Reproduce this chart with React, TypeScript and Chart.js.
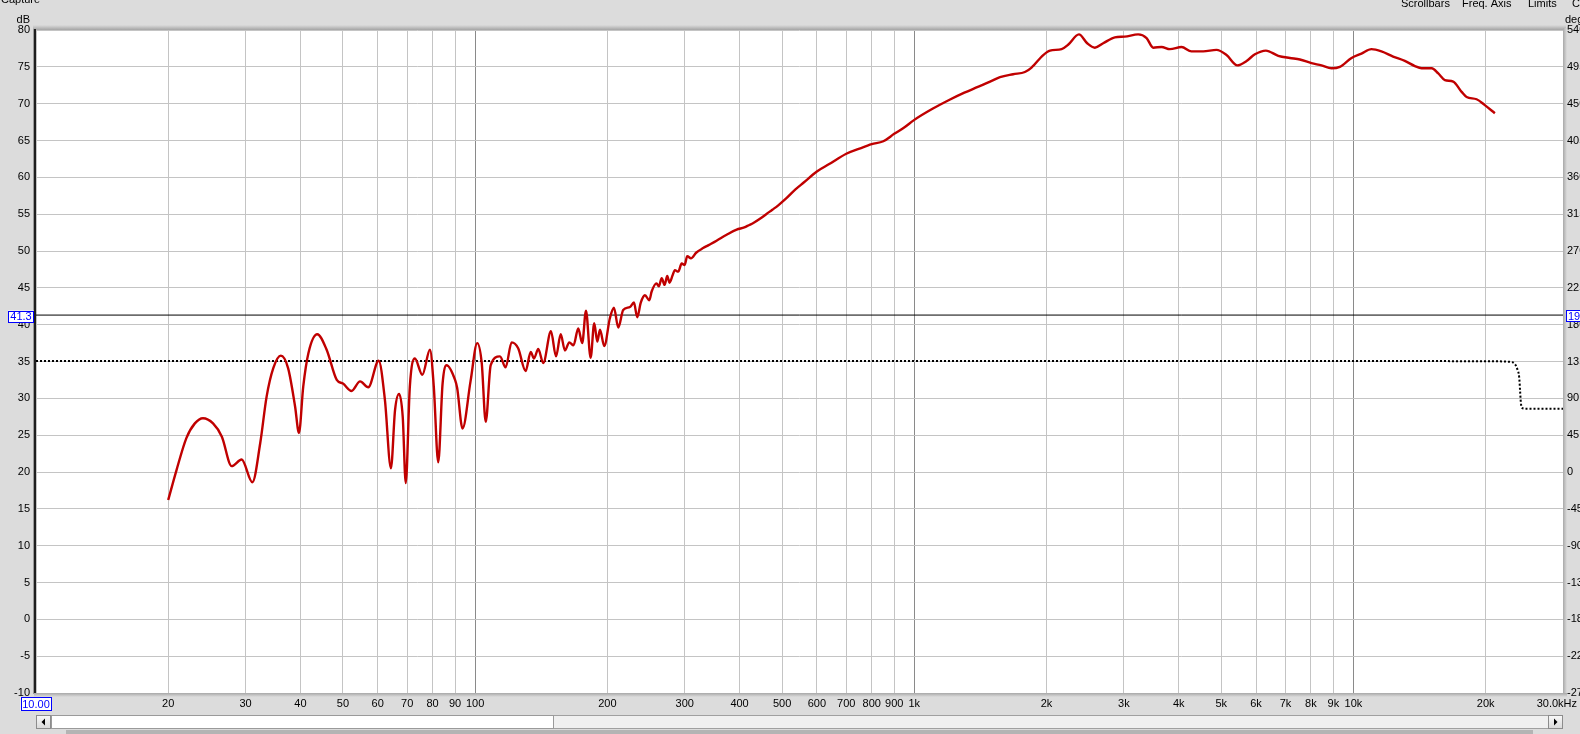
import React, { useEffect, useRef } from 'react';
import { Chart, registerables } from 'chart.js';

Chart.register(...registerables);

// SPL measurement (Hz, dB)
const splFreq = [
  20, 20.9, 22.0, 23.0, 24.0, 25.3, 26.5, 27.9, 29.4, 31.1, 32.4, 33.5, 34.7, 36.1, 37.5, 38.9, 39.7, 40.6, 41.7, 43.7,
  45.9, 48.4, 50.0, 52.3, 54.7, 57.1, 60.3, 62.3, 64.3, 65.7, 67.1, 68.4, 69.5, 71.0, 72.9, 75.8, 78.9, 80.5, 82.4, 84.3,
  86.1, 90.0, 91.0, 93.6, 97.6, 101.1, 103.5, 105.7, 108.5, 113.9, 117.3, 121.1, 125.3, 130.3, 133.8, 136.1, 139.2, 142.9, 148.8, 152.8,
  156.6, 160.1, 163.8, 167.5, 171.7, 175.3, 178.8, 183.2, 186.7, 189.7, 192.4, 196.8, 202.7, 207, 211.8, 217.3, 225.2, 229.9, 233.9, 238.3,
  243.6, 249.2, 252.3, 258.8, 262, 265.9, 270, 273.8, 277, 281.6, 285, 290, 295.3, 300, 304, 310, 319, 330.5, 340, 354.6,
  373.8, 393.9, 410, 420, 430, 446, 460, 475, 490, 510, 537, 560, 600, 640, 700, 750, 800, 850, 900, 950,
  1000, 1100, 1200, 1300, 1400, 1500, 1567, 1679, 1786, 1849, 1966, 2037, 2165, 2240, 2371, 2476, 2577, 2692, 2862, 3013,
  3234, 3380, 3500, 3656, 3819, 4060, 4276, 4548, 4875, 5140, 5435, 5710, 5965, 6318, 6741, 7164, 7550, 8027, 8458, 8913,
  9310, 9900, 10430, 10990, 11580, 12310, 13090, 13800, 14290, 15070, 15600, 16150, 16870, 17630, 18100, 19070, 19910, 20990,
];
const splDb = [
  16.2, 20.3, 24.6, 26.6, 27.3, 26.6, 24.8, 20.8, 21.7, 18.6, 23.9, 30.2, 34.1, 35.8, 34.1, 28.9, 25.3, 31.6, 36.1, 38.7,
  36.6, 32.5, 32.0, 31.0, 32.3, 31.5, 35.1, 29.8, 20.5, 28.4, 30.6, 27.5, 18.5, 31.6, 35.4, 33.2, 36.6, 31.6, 21.3, 32.0,
  34.5, 32.5, 31.4, 25.9, 32.3, 37.5, 34.8, 26.8, 34.5, 35.7, 34.2, 37.6, 36.8, 33.7, 36.3, 35.4, 36.7, 34.8, 39.1, 35.7,
  38.7, 36.5, 37.6, 37.2, 39.5, 37.5, 41.9, 35.5, 40.2, 37.7, 39.3, 37.1, 40.9, 42.3, 39.6, 42.0, 42.4, 43.0, 41.0, 43.0,
  44.0, 43.3, 44.5, 45.6, 45.2, 46.3, 45.4, 46.6, 45.7, 46.7, 47.4, 47.2, 48.3, 48.1, 49.3, 49.0, 49.8, 50.4, 50.8, 51.4,
  52.2, 52.9, 53.2, 53.5, 53.8, 54.4, 55.0, 55.6, 56.2, 57.1, 58.4, 59.3, 60.8, 61.8, 63.2, 63.9, 64.5, 64.9, 65.9, 66.8,
  67.8, 69.3, 70.5, 71.5, 72.3, 73.1, 73.6, 74.0, 74.3, 74.9, 76.6, 77.2, 77.4, 78.0, 79.4, 78.2, 77.6, 78.2, 79.0, 79.1,
  79.4, 78.9, 77.6, 77.7, 77.4, 77.7, 77.1, 77.1, 77.3, 76.6, 75.2, 75.8, 76.7, 77.2, 76.5, 76.2, 76.0, 75.5, 75.2, 74.8,
  75.0, 76.2, 76.8, 77.4, 77.1, 76.4, 75.8, 75.1, 74.8, 74.8, 74.1, 73.2, 73.0, 71.6, 70.9, 70.6, 69.8, 68.7,
];

// Phase trace (Hz, degrees)
const phaseFreq = [10, 15000, 21000, 22800, 23300, 23600, 23850, 23950, 24050, 24200, 24500, 30000];
const phaseDeg = [135.6, 135.5, 135.2, 134.5, 132, 126, 115, 100, 85, 78.5, 77.4, 77.4];

// Cursor
const cursorDb = 41.3;
const cursorDegLabel = '191.7';
const cursorDbLabel = '41.3';
const startFreqLabel = '10.00';
const endFreqLabel = '30.0kHz';

const xTickValues = [
  10, 20, 30, 40, 50, 60, 70, 80, 90, 100, 200, 300, 400, 500, 600, 700, 800, 900,
  1000, 2000, 3000, 4000, 5000, 6000, 7000, 8000, 9000, 10000, 20000, 30000,
];
const xTickLabels = [
  '', '20', '30', '40', '50', '60', '70', '80', '90', '100', '200', '300', '400', '500', '600', '700', '800', '900',
  '1k', '2k', '3k', '4k', '5k', '6k', '7k', '8k', '9k', '10k', '20k', '',
];
const decadeTicks = [100, 1000, 10000];

const topLeftText = 'Capture';
const topRightItems = [
  { text: 'Scrollbars', x: 1401 },
  { text: 'Freq. Axis', x: 1462 },
  { text: 'Limits', x: 1528 },
  { text: 'Controls', x: 1572 },
];

const FONT = 'Liberation Sans';
const BG = '#dcdcdc';

const fixSize = (dim: 'width' | 'height', size: number) => (s: any) => {
  s[dim] = size;
  s.paddingLeft = 0;
  s.paddingRight = 0;
  s.paddingTop = 0;
  s.paddingBottom = 0;
};

const framePlugin = {
  id: 'rewFrame',
  beforeDraw(chart: any) {
    const { ctx, chartArea: a } = chart;
    ctx.save();
    ctx.fillStyle = BG;
    ctx.fillRect(0, 0, chart.width, chart.height);
    ctx.fillStyle = '#ffffff';
    ctx.fillRect(a.left, a.top, a.right - a.left, a.bottom - a.top);
    ctx.restore();
  },
  afterDraw(chart: any) {
    const { ctx, chartArea: a } = chart;
    const xs = chart.scales.x;
    const ys = chart.scales.y;
    ctx.save();
    // top shadow
    const g = ctx.createLinearGradient(0, a.top - 5, 0, a.top);
    g.addColorStop(0, BG);
    g.addColorStop(1, '#a4a4a4');
    ctx.fillStyle = g;
    ctx.fillRect(a.left - 3, a.top - 5, a.right - a.left + 6, 5);
    // left dark border
    ctx.fillStyle = '#9a9a9a';
    ctx.fillRect(a.left - 3, a.top - 1, 1, a.bottom - a.top + 2);
    ctx.fillStyle = '#1e1e1e';
    ctx.fillRect(a.left - 2, a.top - 1, 2, a.bottom - a.top + 2);
    // right border
    const gr = ctx.createLinearGradient(a.right, 0, a.right + 4, 0);
    gr.addColorStop(0, '#a8a8a8');
    gr.addColorStop(1, BG);
    ctx.fillStyle = gr;
    ctx.fillRect(a.right, a.top - 2, 4, a.bottom - a.top + 6);
    // bottom border
    const gb = ctx.createLinearGradient(0, a.bottom, 0, a.bottom + 4);
    gb.addColorStop(0, '#a8a8a8');
    gb.addColorStop(1, BG);
    ctx.fillStyle = gb;
    ctx.fillRect(a.left - 2, a.bottom, a.right - a.left + 6, 4);

    ctx.font = `11px "${FONT}"`;
    ctx.textBaseline = 'middle';

    // axis unit titles
    ctx.fillStyle = '#000';
    ctx.textAlign = 'right';
    ctx.fillText('dB', 30, 20);
    ctx.textAlign = 'left';
    ctx.fillText('deg', 1565, 20);

    // end frequency label
    ctx.textAlign = 'right';
    ctx.fillText(endFreqLabel, 1577, 704);

    // blue value boxes
    const drawBox = (x: number, y: number, w: number, h: number, text: string, align: string) => {
      ctx.fillStyle = '#ffffff';
      ctx.fillRect(x, y, w, h);
      ctx.strokeStyle = '#0000ff';
      ctx.lineWidth = 1;
      ctx.strokeRect(Math.round(x) + 0.5, Math.round(y) + 0.5, w - 1, h - 1);
      ctx.fillStyle = '#0000ff';
      if (align === 'center') {
        ctx.textAlign = 'center';
        ctx.fillText(text, x + w / 2, y + h / 2 + 0.5);
      } else {
        ctx.textAlign = 'left';
        ctx.fillText(text, x + 2, y + h / 2 + 0.5);
      }
    };
    const x10 = xs.getPixelForValue(10);
    drawBox(x10 - 15.5, 697, 31, 14, startFreqLabel, 'center');
    const yc = ys.getPixelForValue(cursorDb);
    drawBox(8, yc - 4.5, 26, 12, cursorDbLabel, 'center');
    drawBox(1566, yc - 5, 30, 12, cursorDegLabel, 'left');

    // top menu texts
    ctx.fillStyle = '#000';
    ctx.textBaseline = 'alphabetic';
    ctx.textAlign = 'left';
    ctx.fillText(topLeftText, 1, 3);
    topRightItems.forEach((it) => ctx.fillText(it.text, it.x, 7));

    // scrollbar
    const sy = 715;
    const sh = 14;
    ctx.fillStyle = '#f0f0f0';
    ctx.fillRect(a.left, sy, a.right - a.left, sh);
    ctx.strokeStyle = '#a0a0a0';
    ctx.strokeRect(a.left + 0.5, sy + 0.5, a.right - a.left - 1, sh - 1);
    // thumb
    ctx.fillStyle = '#ffffff';
    ctx.fillRect(51, sy + 1, 503, sh - 2);
    ctx.strokeStyle = '#9a9a9a';
    ctx.strokeRect(51.5, sy + 0.5, 502, sh - 1);
    // buttons
    const btn = (bx: number, dir: number) => {
      const gg = ctx.createLinearGradient(0, sy, 0, sy + sh);
      gg.addColorStop(0, '#fafafa');
      gg.addColorStop(1, '#d8d8d8');
      ctx.fillStyle = gg;
      ctx.fillRect(bx, sy, 15, sh);
      ctx.strokeStyle = '#8c8c8c';
      ctx.strokeRect(bx + 0.5, sy + 0.5, 14, sh - 1);
      ctx.fillStyle = '#000';
      ctx.beginPath();
      const cx = bx + 7.5;
      const cy = sy + sh / 2;
      ctx.moveTo(cx - 2 * dir, cy);
      ctx.lineTo(cx + 1.5 * dir, cy - 3.5);
      ctx.lineTo(cx + 1.5 * dir, cy + 3.5);
      ctx.closePath();
      ctx.fill();
    };
    btn(a.left, 1);
    btn(a.right - 15, -1);
    // shadow strip below
    ctx.fillStyle = '#b4b4b4';
    ctx.fillRect(66, 730, 1467, 4);
    ctx.restore();
  },
};

export default function App() {
  const ref = useRef<HTMLCanvasElement | null>(null);

  useEffect(() => {
    document.body.style.margin = '0';
    const canvas = ref.current;
    if (!canvas) return;
    const chart = new Chart(canvas, {
      type: 'line',
      data: {
        datasets: [
          {
            label: 'SPL',
            data: splFreq.map((f, i) => ({ x: f, y: splDb[i] })),
            borderColor: '#c00000',
            borderWidth: 2.4,
            pointRadius: 0,
            cubicInterpolationMode: 'monotone',
            yAxisID: 'y',
            order: 1,
          },
          {
            label: 'Phase',
            data: phaseFreq.map((f, i) => ({ x: f, y: phaseDeg[i] })),
            borderColor: '#000000',
            borderWidth: 2,
            borderDash: [2, 2],
            pointRadius: 0,
            cubicInterpolationMode: 'monotone',
            yAxisID: 'yPhase',
            order: 2,
          },
          {
            label: 'Cursor',
            data: [
              { x: 10, y: cursorDb },
              { x: 30000, y: cursorDb },
            ],
            borderColor: '#000000',
            borderWidth: 1,
            pointRadius: 0,
            yAxisID: 'y',
            order: 3,
          },
        ],
      },
      options: {
        animation: false,
        responsive: false,
        maintainAspectRatio: false,
        events: [],
        layout: { padding: { top: 30, left: 0, right: 0, bottom: 0 } },
        plugins: {
          legend: { display: false },
          tooltip: { enabled: false },
          title: { display: false },
        },
        scales: {
          x: {
            type: 'logarithmic',
            position: 'bottom',
            min: 10,
            max: 30000,
            afterBuildTicks: (s: any) => {
              s.ticks = xTickValues.map((v) => ({ value: v }));
            },
            afterFit: fixSize('height', 41),
            ticks: {
              autoSkip: false,
              maxRotation: 0,
              minRotation: 0,
              padding: 4,
              color: '#000',
              font: { family: FONT, size: 11 },
              callback: (_v: any, i: number) => xTickLabels[i],
            },
            grid: {
              drawTicks: false,
              lineWidth: 1,
              color: (c: any) =>
                c.tick && decadeTicks.includes(c.tick.value) ? '#8a8a8a' : '#c4c4c4',
            },
            border: { display: false },
          },
          y: {
            type: 'linear',
            position: 'left',
            min: -10,
            max: 80,
            afterFit: fixSize('width', 36),
            ticks: {
              stepSize: 5,
              autoSkip: false,
              padding: 6,
              color: '#000',
              font: { family: FONT, size: 11 },
            },
            grid: { drawTicks: false, color: '#c4c4c4', lineWidth: 1 },
            border: { display: false },
          },
          yPhase: {
            type: 'linear',
            position: 'right',
            min: -270,
            max: 540,
            afterFit: fixSize('width', 17),
            ticks: {
              stepSize: 45,
              autoSkip: false,
              padding: 4,
              color: '#000',
              font: { family: FONT, size: 11 },
            },
            grid: { display: false, drawTicks: false },
            border: { display: false },
          },
        },
      } as any,
      plugins: [framePlugin],
    });
    return () => chart.destroy();
  }, []);

  return (
    <div style={{ position: 'fixed', left: 0, top: 0, width: 1580, height: 734 }}>
      <canvas ref={ref} width={1580} height={734} style={{ width: 1580, height: 734, display: 'block' }} />
    </div>
  );
}
